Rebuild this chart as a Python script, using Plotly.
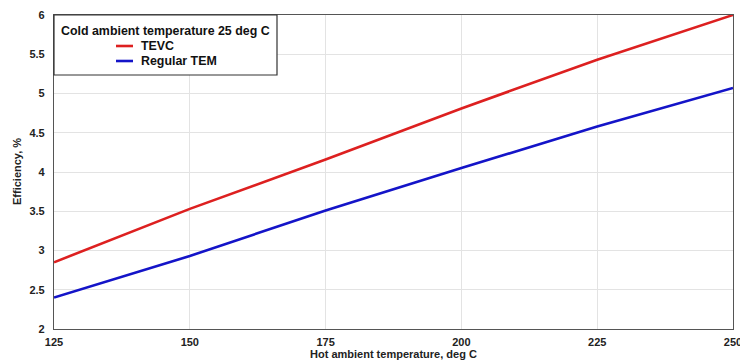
import plotly.graph_objects as go

# Hot-side ambient temperature, deg C
hot_temp = [125, 150, 175, 200, 225, 250]
# Conversion efficiency, %
eff_tevc = [2.85, 3.53, 4.16, 4.81, 5.43, 6.00]
eff_regular = [2.40, 2.93, 3.51, 4.05, 4.58, 5.07]

series_names = ["TEVC", "Regular TEM"]
series_colors = ["#dd2020", "#1414c8"]
legend_title = "Cold ambient temperature 25 deg C"

x_ticks = [125, 150, 175, 200, 225, 250]
y_ticks = [2, 2.5, 3, 3.5, 4, 4.5, 5, 5.5, 6]

FONT = "Liberation Sans, Arial, sans-serif"
PLOT_W, PLOT_H = 679, 314

fig = go.Figure()
for name, ys, col in zip(series_names, [eff_tevc, eff_regular], series_colors):
    fig.add_trace(go.Scatter(x=hot_temp, y=ys, mode="lines", name=name,
                             line=dict(color=col, width=2.6), showlegend=False))

axis_common = dict(
    showgrid=True, gridcolor="#e3e3e3", gridwidth=1,
    showline=True, linecolor="#555555", linewidth=1.2, mirror=True,
    ticks="", zeroline=False, automargin=False,
    ticklabeloverflow="allow",
    tickfont=dict(family=FONT, size=11, color="#222222", weight="bold"),
)

fig.update_layout(
    width=740, height=361,
    margin=dict(l=54, r=7, t=15, b=32),
    paper_bgcolor="white", plot_bgcolor="white",
    xaxis=dict(range=[125, 250], tickvals=x_ticks, ticklabelstandoff=3,
               **axis_common),
    yaxis=dict(range=[2, 6], tickvals=y_ticks, ticklabelstandoff=6,
               tickformat="~g", **axis_common),
)

# Axis titles
title_font = dict(family=FONT, size=11, color="#222222", weight="bold")
fig.add_annotation(xref="paper", yref="paper", x=0.5, y=-32 / PLOT_H,
                   text="Hot ambient temperature, deg C", showarrow=False,
                   xanchor="center", yanchor="bottom", borderpad=0, font=title_font)
fig.add_annotation(xref="paper", yref="paper", x=-37 / PLOT_W, y=0.5,
                   text="Efficiency, %", showarrow=False, textangle=-90,
                   xanchor="center", yanchor="middle", font=title_font)

# Legend box drawn in the upper-left corner of the plot area
fig.add_shape(type="rect", xref="paper", yref="paper",
              x0=0, x1=223 / PLOT_W, y0=1 - 60 / PLOT_H, y1=1,
              line=dict(color="#333333", width=1.2), fillcolor="white", layer="above")
fig.add_annotation(xref="paper", yref="paper", x=111.5 / PLOT_W, y=1 - 16 / PLOT_H,
                   text=legend_title, showarrow=False, xanchor="center", yanchor="middle",
                   font=dict(family=FONT, size=12.4, color="#111111", weight="bold"))
for i, (name, col) in enumerate(zip(series_names, series_colors)):
    yy = 1 - (31 + 15 * i) / PLOT_H
    fig.add_shape(type="line", xref="paper", yref="paper",
                  x0=62 / PLOT_W, x1=79 / PLOT_W, y0=yy, y1=yy,
                  line=dict(color=col, width=2.6), layer="above")
    fig.add_annotation(xref="paper", yref="paper", x=85 / PLOT_W, y=yy,
                       text=name, showarrow=False, xanchor="left", yanchor="middle",
                       font=dict(family=FONT, size=12.4, color="#111111", weight="bold"))

fig.write_html("out.html")
